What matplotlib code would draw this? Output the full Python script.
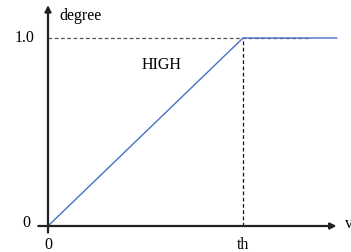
import matplotlib.pyplot as plt

# membership function "HIGH"
v = [0.0, 1.0, 1.48]
degree = [0.0, 1.0, 1.0]
th = 1.0
top = 1.0

plt.rcParams['font.family'] = ['Liberation Serif', 'DejaVu Serif']

fig = plt.figure(figsize=(3.51, 2.52), dpi=100)
ax = fig.add_axes([0, 0, 1, 1])
ax.set_xlim(-48 / 195, 303 / 195)
ax.set_ylim(-26 / 188, 226 / 188)
ax.axis('off')

# axes with arrows
ax.annotate('', xy=(1.48, 0), xytext=(-0.05, 0),
            arrowprops=dict(arrowstyle='-|>', color='#222222', lw=1.6,
                            mutation_scale=9, shrinkA=0, shrinkB=0))
ax.annotate('', xy=(0, 1.175), xytext=(0, -0.035),
            arrowprops=dict(arrowstyle='-|>', color='#222222', lw=1.6,
                            mutation_scale=9, shrinkA=0, shrinkB=0))

# guides
ax.plot([0, 1.344], [top, top], ls=(0, (3, 2)), color='#555555', lw=0.9)
ax.plot([th, th], [0, top], ls=(0, (3, 2)), color='#111111', lw=0.9)

ax.plot(v, degree, color='#4472C4', lw=1.0)

fs = 11.5
ax.text(0.056, 1.117, 'degree', fontsize=fs, va='center', ha='left')
ax.text(-0.067, top, '1.0', fontsize=fs, va='center', ha='right')
ax.text(-0.092, 0.016, '0', fontsize=fs, va='center', ha='right')
ax.text(0, -0.1, '0', fontsize=fs, va='center', ha='center')
ax.text(th, -0.1, 'th', fontsize=fs, va='center', ha='center')
ax.text(1.523, 0.01, 'v', fontsize=fs, va='center', ha='left')
ax.text(0.585, 0.856, 'HIGH', fontsize=fs, va='center', ha='center')

fig.savefig('out.png', dpi=100)
